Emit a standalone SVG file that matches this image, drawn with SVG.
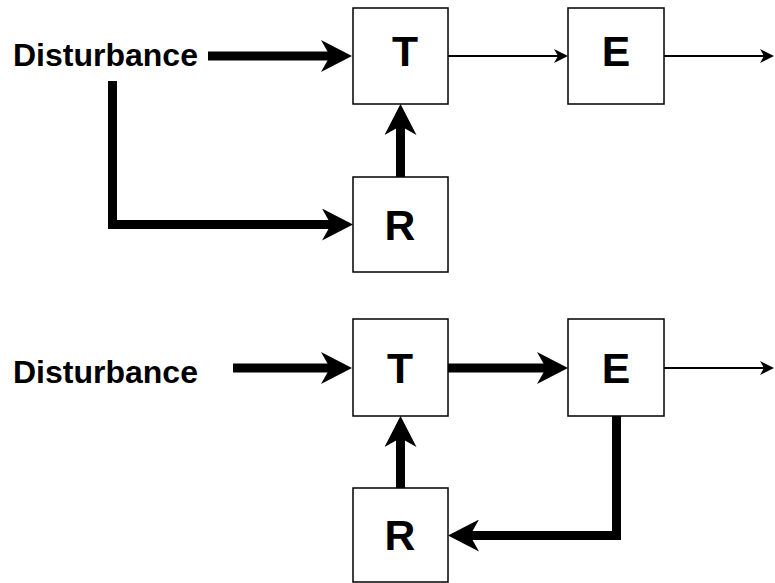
<svg xmlns="http://www.w3.org/2000/svg" width="775" height="583" viewBox="0 0 775 583">
<style>
.box{fill:#fff;stroke:#000;stroke-width:1.5}
.lbl{font-family:"Liberation Sans",Arial,sans-serif;font-weight:bold;font-size:42.7px;text-anchor:middle;fill:#000}
.dist{font-family:"Liberation Sans",Arial,sans-serif;font-weight:bold;font-size:32px;fill:#000}
.thick{fill:none;stroke:#000;stroke-width:9;stroke-linejoin:miter}
.thin{fill:none;stroke:#000;stroke-width:2}
</style>
<defs>
<marker id="bigArrow" viewBox="0 0 31 32" markerWidth="31" markerHeight="32" markerUnits="userSpaceOnUse" refX="11" refY="16" orient="auto">
<path d="M0,0 L31,16 L0,32 L9,16 Z" fill="#000"/>
</marker>
<marker id="smallArrow" viewBox="0 0 14 14" markerWidth="14" markerHeight="14" markerUnits="userSpaceOnUse" refX="5" refY="7" orient="auto">
<path d="M0,0 L14,7 L0,14 L4,7 Z" fill="#000"/>
</marker>
</defs>
<rect width="775" height="583" fill="#fff"/>
<g id="connectors">
<path class="thick" d="M208,56 H332" marker-end="url(#bigArrow)"/>
<path class="thick" d="M112.5,81 V224.5 H333" marker-end="url(#bigArrow)"/>
<path class="thick" d="M400.5,177 V124" marker-end="url(#bigArrow)"/>
<path class="thin" d="M448,56 H559" marker-end="url(#smallArrow)"/>
<path class="thin" d="M664,56 H765" marker-end="url(#smallArrow)"/>
<path class="thick" d="M233,368 H332" marker-end="url(#bigArrow)"/>
<path class="thick" d="M448,368 H548" marker-end="url(#bigArrow)"/>
<path class="thin" d="M664,368 H765" marker-end="url(#smallArrow)"/>
<path class="thick" d="M400.5,488 V436" marker-end="url(#bigArrow)"/>
<path class="thick" d="M616.5,416 V535.5 H468" marker-end="url(#bigArrow)"/>
</g>
<g id="dist1"><text class="dist" x="13" y="66">Disturbance</text></g>
<g id="T1"><rect class="box" x="353" y="8" width="95" height="96"/><text class="lbl" x="405" y="66">T</text></g>
<g id="E1"><rect class="box" x="568" y="8" width="96" height="96"/><text class="lbl" x="616" y="66">E</text></g>
<g id="R1"><rect class="box" x="353" y="177" width="95" height="95"/><text class="lbl" x="400" y="240">R</text></g>
<g id="dist2"><text class="dist" x="13" y="383">Disturbance</text></g>
<g id="T2"><rect class="box" x="353" y="319" width="95" height="97"/><text class="lbl" x="400" y="383">T</text></g>
<g id="E2"><rect class="box" x="568" y="319" width="96" height="97"/><text class="lbl" x="616" y="383">E</text></g>
<g id="R2"><rect class="box" x="353" y="488" width="95" height="94"/><text class="lbl" x="400" y="550">R</text></g>
</svg>
